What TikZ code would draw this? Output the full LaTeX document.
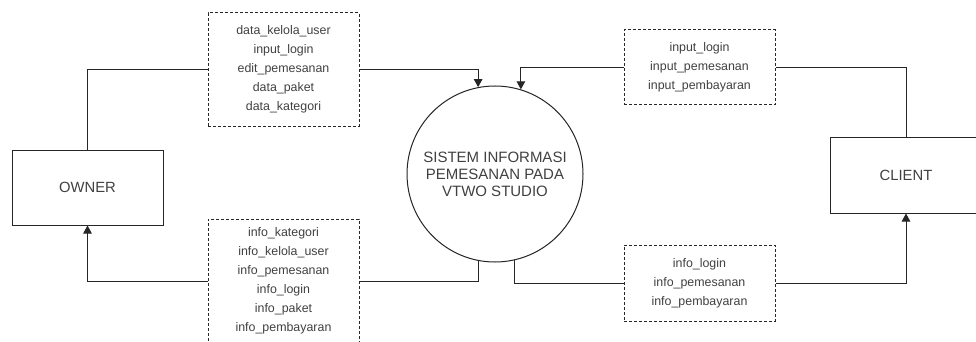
\documentclass[tikz,border=0pt]{standalone}
\usepackage{fontspec}
\setmainfont{Liberation Sans}
\usetikzlibrary{arrows.meta,positioning}

\begin{document}
\begin{tikzpicture}[x=1pt, y=-1pt,
            entity/.style={rectangle, draw=black!85, line width=1pt, minimum width=151pt, minimum height=75pt,
            text=black!75, font=\fontsize{14.8}{17}\selectfont},
            process/.style={circle, draw=black!85, line width=1pt, minimum size=176pt, inner sep=0pt, align=center,
            text=black!75, font=\fontsize{15}{17}\selectfont},
            flowbox/.style={rectangle, draw=black!85, line width=1pt, dash pattern=on 3pt off 2pt,
            minimum width=151pt, align=center, text=black!75, font=\fontsize{12.4}{19}\selectfont},
            link/.style={draw=black!85, line width=1pt},
            arrow/.style={link, -{Triangle[length=8pt,width=8.5pt]}}]
            \useasboundingbox (0,0) rectangle (976,342);
            % terminators and process
            \node (owner) [entity] at (87.5,187.5) {OWNER};
            \node (client) [entity, minimum width=152pt, minimum height=76pt] at (906,175) {CLIENT};
            \node (sistem) [process] at (495,174) {SISTEM INFORMASI\\ PEMESANAN PADA\\ VTWO STUDIO};
            % data flows
            \node (ownerin) [flowbox, minimum height=113pt] at (283.5,69.5)
            {data\_kelola\_user\\ input\_login\\ edit\_pemesanan\\ data\_paket\\ data\_kategori};
            \node (ownerout) [flowbox, minimum height=124pt] at (283.5,281)
            {info\_kategori\\ info\_kelola\_user\\ info\_pemesanan\\ info\_login\\ info\_paket\\ info\_pembayaran};
            \node (clientin) [flowbox, minimum height=75pt] at (699.5,67.5)
            {input\_login\\ input\_pemesanan\\ input\_pembayaran};
            \node (clientout) [flowbox, minimum height=76pt] at (699.5,283)
            {info\_login\\ info\_pemesanan\\ info\_pembayaran};
            % connectors
            \draw [link] (owner.north) |- (ownerin.west);
            \draw [arrow] (ownerin.east) -| (sistem.101);
            \draw [link] (sistem.259) |- (ownerout.east);
            \draw [arrow] (ownerout.west) -| (owner.south);
            \draw [link] (client.north) |- (clientin.east);
            \draw [arrow] (clientin.west) -| (sistem.73);
            \draw [link] (sistem.283) |- (clientout.west);
            \draw [arrow] (clientout.east) -| (client.south);
        \end{tikzpicture}
\end{document}
